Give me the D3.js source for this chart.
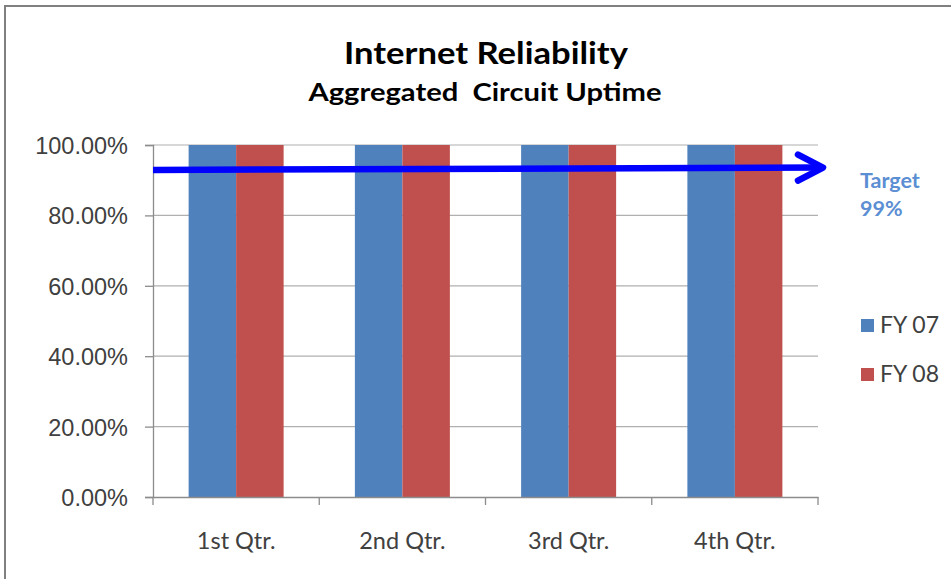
<!DOCTYPE html>
<html>
<head>
<meta charset="utf-8">
<script src="https://cdn.jsdelivr.net/npm/d3@7"></script>
<style>
  html, body { margin: 0; padding: 0; background: #fff; }
  svg { display: block; }
</style>
</head>
<body>
<svg id="chart" width="951" height="579"></svg>
<script>
// ---- data ----
const categories = ["1st Qtr.", "2nd Qtr.", "3rd Qtr.", "4th Qtr."];
const seriesNames = ["FY 07", "FY 08"];
const fy07 = [100, 100, 100, 100];
const fy08 = [100, 100, 100, 100];
const yTicks = [0, 20, 40, 60, 80, 100];
const targetLine = [92.9, 93.6];   // drawn arrow (start, end) in %
const targetLabel = ["Target", "99%"];
const titleText = "Internet Reliability";
const subtitleText = "Aggregated  Circuit Uptime";

const colors = ["#4f81bd", "#c0504d"];
const svg = d3.select("#chart");
const W = 951, H = 579;
const plot = { left: 153, right: 818, top: 145, bottom: 497 };

// outer frame (top & left visible)
svg.append("rect").attr("x", 0).attr("y", 0).attr("width", W).attr("height", H).attr("fill", "#fff");
svg.append("line").attr("x1", 4).attr("x2", W).attr("y1", 6).attr("y2", 6)
  .attr("stroke", "#808080").attr("stroke-width", 2);
svg.append("line").attr("x1", 5).attr("x2", 5).attr("y1", 5).attr("y2", H)
  .attr("stroke", "#808080").attr("stroke-width", 2);

// titles
svg.append("text").attr("x", 486).attr("y", 64).attr("text-anchor", "middle")
  .attr("font-family", "Lato, 'Open Sans', sans-serif").attr("font-weight", "bold")
  .attr("font-size", 30).attr("fill", "#000")
  .attr("textLength", 284).attr("lengthAdjust", "spacingAndGlyphs")
  .text(titleText);
svg.append("text").attr("x", 485).attr("y", 101).attr("text-anchor", "middle")
  .attr("font-family", "Lato, 'Open Sans', sans-serif").attr("font-weight", "bold")
  .attr("font-size", 25).attr("fill", "#000")
  .attr("textLength", 353).attr("lengthAdjust", "spacingAndGlyphs")
  .attr("xml:space", "preserve").style("white-space", "pre")
  .text(subtitleText);

// scales
const x0 = d3.scaleBand().domain(categories).range([plot.left, plot.right]).paddingInner(0).paddingOuter(0);
const gapFrac = 1.5 / 3.5; // Excel gap width 150%
const x1 = d3.scaleBand().domain(seriesNames)
  .range([x0.bandwidth() * gapFrac / 2, x0.bandwidth() * (1 - gapFrac / 2)]).padding(0);
const y = d3.scaleLinear().domain([0, 100]).range([plot.bottom, plot.top]);

// gridlines
svg.append("g").selectAll("line").data(yTicks.filter(t => t > 0)).join("line")
  .attr("x1", plot.left).attr("x2", plot.right)
  .attr("y1", d => y(d)).attr("y2", d => y(d))
  .attr("stroke", "#b0b0b0").attr("stroke-width", 1.2);

// bars
const data = categories.map((c, i) => ({ cat: c, vals: [fy07[i], fy08[i]] }));
const groups = svg.append("g").selectAll("g").data(data).join("g")
  .attr("transform", d => `translate(${x0(d.cat)},0)`);
groups.selectAll("rect").data(d => d.vals.map((v, j) => ({ name: seriesNames[j], v, j }))).join("rect")
  .attr("x", d => x1(d.name)).attr("width", x1.bandwidth())
  .attr("y", d => y(d.v)).attr("height", d => y(0) - y(d.v))
  .attr("fill", d => colors[d.j]);

// y axis
const yAxis = d3.axisLeft(y).tickValues(yTicks).tickSize(8).tickPadding(17)
  .tickFormat(d => d.toFixed(2) + "%");
const gy = svg.append("g").attr("transform", `translate(${plot.left},0)`).call(yAxis);
gy.select(".domain").attr("stroke", "#8c8c8c").attr("stroke-width", 1.3);
gy.selectAll(".tick line").attr("stroke", "#8c8c8c").attr("stroke-width", 1.3);
gy.selectAll(".tick text").attr("font-family", "'Liberation Sans', Arial, sans-serif")
  .attr("font-size", 23.5).attr("fill", "#404040").attr("dy", "0.36em");

// x axis
const xAxis = d3.axisBottom(x0).tickSize(0).tickPadding(0);
const gx = svg.append("g").attr("transform", `translate(0,${plot.bottom})`).call(xAxis);
gx.select(".domain").attr("stroke", "#8c8c8c").attr("stroke-width", 1.3);
gx.selectAll(".tick text").attr("font-family", "Lato, 'Open Sans', sans-serif")
  .attr("font-size", 23.5).attr("fill", "#404040").attr("dy", 0).attr("y", 52);
// category boundary ticks
const bounds = categories.map(c => x0(c)).concat([x0.range()[1]]);
gx.append("g").selectAll("line").data(bounds).join("line")
  .attr("x1", d => d).attr("x2", d => d).attr("y1", 0).attr("y2", 8)
  .attr("stroke", "#8c8c8c").attr("stroke-width", 1.3);

// target arrow
const ax0 = plot.left, ax1 = plot.right + 5;
const ya = y(targetLine[0]), yb = y(targetLine[1]);
svg.append("line").attr("x1", ax0).attr("y1", ya).attr("x2", ax1 - 3).attr("y2", yb)
  .attr("stroke", "#0000ff").attr("stroke-width", 6.5);
svg.append("path")
  .attr("d", `M${ax1 - 25},${yb - 13} L${ax1},${yb} L${ax1 - 25},${yb + 13}`)
  .attr("fill", "none").attr("stroke", "#0000ff").attr("stroke-width", 6.5)
  .attr("stroke-linecap", "round").attr("stroke-linejoin", "round");

// target label
svg.append("g").selectAll("text").data(targetLabel).join("text")
  .attr("x", 860).attr("y", (d, i) => 188 + i * 28)
  .attr("font-family", "Lato, 'Open Sans', sans-serif").attr("font-weight", "bold")
  .attr("font-size", 21.5).attr("fill", "#5b8ed2")
  .text(d => d);

// legend
const lg = svg.append("g").selectAll("g").data(seriesNames).join("g")
  .attr("transform", (d, i) => `translate(861,${319 + i * 49})`);
lg.append("rect").attr("width", 13).attr("height", 13).attr("fill", (d, i) => colors[i]);
lg.append("text").attr("x", 19).attr("y", 14)
  .attr("font-family", "Lato, 'Open Sans', sans-serif").attr("font-size", 23)
  .attr("fill", "#404040").text(d => d);
</script>
</body>
</html>
